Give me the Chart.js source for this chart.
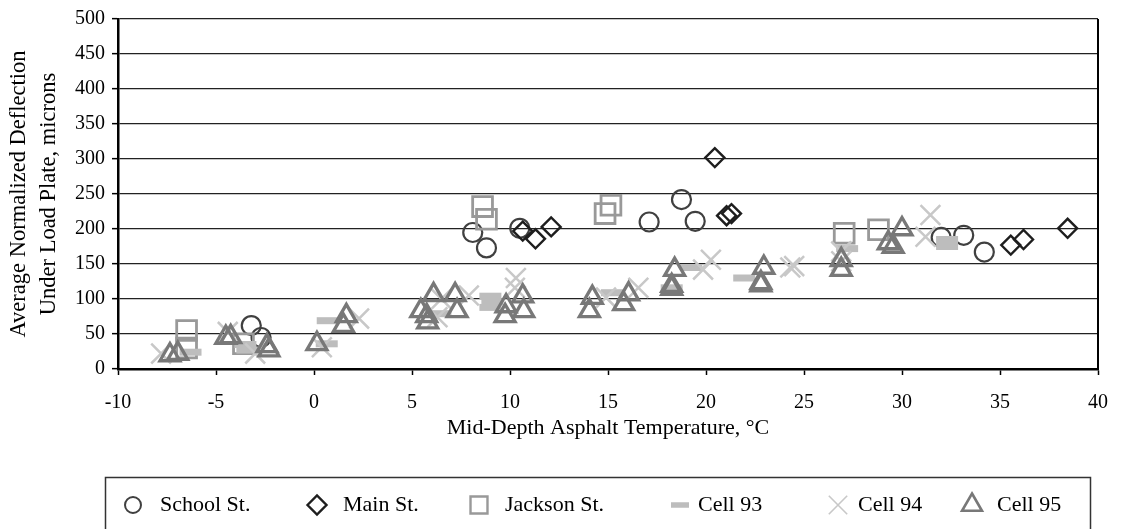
<!DOCTYPE html>
<html>
<head>
<meta charset="utf-8">
<script src="https://cdn.jsdelivr.net/npm/chart.js@4/dist/chart.umd.min.js"></script>
<style>
  html, body { margin: 0; padding: 0; background: #fff; }
  canvas { display: block; }
</style>
</head>
<body>
<canvas id="deflection-chart" width="1124" height="529"></canvas>
<script>
// temperature (°C) / deflection (microns) pairs
const schoolTemp = [-3.2, -2.7, 8.1, 8.8, 10.5, 17.1, 18.75, 19.45, 32.0, 33.15, 34.2];
const schoolDefl = [62, 45, 195, 173, 201, 210, 242, 211, 188, 191, 167];

const mainTemp = [10.65, 11.3, 12.1, 20.45, 21.05, 21.3, 35.55, 36.2, 38.45];
const mainDefl = [197, 186, 203, 302, 219, 222, 177, 185, 201];

const jacksonTemp = [-6.5, -6.5, -3.6, 8.6, 8.8, 14.85, 15.15, 27.05, 28.8];
const jacksonDefl = [55, 30, 36, 232, 214, 222, 234, 194, 199];

const cell93Temp = [-6.3, -3.5, -3.4, 0.7, 0.65, 6.45, 9.0, 9.1, 9.0, 15.2, 18.25, 19.25, 21.95, 27.2, 32.3, 32.3];
const cell93Defl = [24, 35, 27, 69, 36, 79, 104, 96, 88, 109, 116, 145, 130, 172, 185, 175];

const cell94Temp = [-7.8, -4.4, -3.0, 0.4, 2.3, 6.5, 6.3, 7.9, 10.3, 10.25, 14.9, 16.55, 19.85, 20.25, 24.3, 24.5, 26.9, 26.9, 31.45, 31.2];
const cell94Defl = [22, 53, 22, 31, 72, 100, 74, 105, 130, 116, 102, 116, 142, 156, 145, 147, 168, 154, 220, 189];

const cell95Temp = [-7.35, -6.95, -4.5, -4.25, -2.3, -2.4, 0.15, 1.5, 1.65, 5.45, 5.75, 5.8, 6.1, 7.2, 7.3, 9.8, 9.75, 10.65, 10.7,
  14.2, 14.05, 16.05, 15.8, 18.4, 18.25, 18.25, 22.95, 22.8, 22.8, 26.9, 26.9, 30.0, 29.3, 29.55];
const cell95Defl = [20, 22, 45, 46, 27, 33, 36, 62, 76, 83, 76, 67, 106, 106, 83, 90, 76, 104, 83,
  102, 83, 107, 93, 142, 119, 115, 145, 123, 120, 156, 142, 200, 180, 175];

const yTicks = [0, 50, 100, 150, 200, 250, 300, 350, 400, 450, 500];

const serif = 'Liberation Serif, Times New Roman, serif';
const pairs = (xs, ys) => xs.map((x, i) => ({ x: x, y: ys[i] }));

const series = [
  { label: 'School St.', data: pairs(schoolTemp, schoolDefl), pointStyle: 'circle', pointRadius: 9.5,
    pointBorderColor: '#404040', pointBorderWidth: 2.2, order: 6,
    legend: { radius: 8, width: 2 } },
  { label: 'Main St.', data: pairs(mainTemp, mainDefl), pointStyle: 'rectRot', pointRadius: 9.5,
    pointBorderColor: '#1e1e1e', pointBorderWidth: 2.4, order: 5,
    legend: { radius: 9.5, width: 2.4 } },
  { label: 'Jackson St.', data: pairs(jacksonTemp, jacksonDefl), pointStyle: 'rect', pointRadius: 14,
    pointBorderColor: '#999999', pointBorderWidth: 2.8, order: 4,
    legend: { radius: 12, width: 2.4 } },
  { label: 'Cell 93', data: pairs(cell93Temp, cell93Defl), pointStyle: 'line', pointRadius: 11,
    pointBorderColor: '#bdbdbd', pointBorderWidth: 7, order: 3,
    legend: { radius: 9, width: 5.5 } },
  { label: 'Cell 94', data: pairs(cell94Temp, cell94Defl), pointStyle: 'crossRot', pointRadius: 14,
    pointBorderColor: '#c8c8c8', pointBorderWidth: 2.5, order: 2,
    legend: { radius: 13, width: 1.6 } },
  { label: 'Cell 95', data: pairs(cell95Temp, cell95Defl), pointStyle: 'triangle', pointRadius: 11.5,
    pointBorderColor: '#787878', pointBorderWidth: 3.3, order: 1,
    legend: { radius: 11.5, width: 2.6 } }
];

series.forEach(s => {
  s.pointBackgroundColor = 'rgba(0,0,0,0)';
  s.backgroundColor = 'rgba(0,0,0,0)';
  s.borderColor = s.pointBorderColor;
  s.showLine = false;
});

// legend drawn by hand in a box under the axis title, like the original
const boxLegend = {
  id: 'boxLegend',
  afterDraw(chart) {
    const ctx = chart.ctx;
    const markX = [133, 317, 479, 680, 838, 972];
    const textX = [160, 343, 505, 698, 858, 997];
    const midY = 505;
    ctx.save();
    ctx.strokeStyle = '#333';
    ctx.lineWidth = 1.5;
    ctx.strokeRect(105.5, 477.5, 985, 70);
    ctx.font = '22px ' + serif;
    ctx.fillStyle = '#000';
    ctx.textBaseline = 'middle';
    ctx.textAlign = 'left';
    chart.data.datasets.forEach((ds, i) => {
      ctx.save();
      ctx.strokeStyle = ds.pointBorderColor;
      ctx.fillStyle = 'rgba(0,0,0,0)';
      ctx.lineWidth = ds.legend.width;
      Chart.helpers.drawPoint(ctx, {
        pointStyle: ds.pointStyle, rotation: 0,
        radius: ds.legend.radius, borderWidth: ds.legend.width
      }, markX[i], midY);
      ctx.restore();
      ctx.fillText(ds.label, textX[i], midY);
    });
    ctx.restore();
  }
};

// closing line on the right of the plot area
const rightEdge = {
  id: 'rightEdge',
  afterDraw(chart) {
    const a = chart.chartArea, ctx = chart.ctx;
    ctx.save();
    ctx.strokeStyle = '#000';
    ctx.lineWidth = 2;
    ctx.beginPath();
    ctx.moveTo(a.right, a.top);
    ctx.lineTo(a.right, a.bottom);
    ctx.stroke();
    ctx.restore();
  }
};

const chartInit = () => {
  const ctx = document.getElementById('deflection-chart').getContext('2d');
  new Chart(ctx, {
    type: 'scatter',
    data: { datasets: series },
    plugins: [rightEdge, boxLegend],
    options: {
      responsive: false,
      animation: false,
      events: [],
      layout: { padding: { left: 0, right: 17, top: 15, bottom: 52 } },
      plugins: {
        legend: { display: false },
        tooltip: { enabled: false }
      },
      scales: {
        x: {
          type: 'linear',
          min: -10,
          max: 40,
          afterFit: s => { s.height = 108; },
          ticks: {
            stepSize: 5,
            color: '#000',
            padding: 16,
            maxRotation: 0,
            font: { family: serif, size: 20 }
          },
          grid: { drawOnChartArea: false, drawTicks: true, tickLength: 6, tickColor: '#000', tickWidth: 1.5 },
          border: { color: '#000', width: 2.5 },
          title: {
            display: true,
            text: 'Mid-Depth Asphalt Temperature, °C',
            color: '#000',
            font: { family: serif, size: 22 },
            padding: { top: 0, bottom: 36 }
          }
        },
        y: {
          min: 0,
          max: 500,
          afterFit: s => { s.width = 118; },
          afterBuildTicks: s => { s.ticks = yTicks.map(v => ({ value: v })); },
          ticks: {
            color: '#000',
            padding: 7,
            font: { family: serif, size: 20 }
          },
          grid: { color: '#222', lineWidth: 1.3, tickLength: 6, tickColor: '#000', tickWidth: 1.5 },
          border: { color: '#000', width: 2.5 },
          title: {
            display: true,
            text: ['Average Normalized Deflection', 'Under Load Plate, microns'],
            color: '#000',
            font: { family: serif, size: 22.5, lineHeight: 1.33 },
            padding: { top: 4, bottom: 0 }
          }
        }
      }
    }
  });
};

chartInit();
</script>
</body>
</html>
